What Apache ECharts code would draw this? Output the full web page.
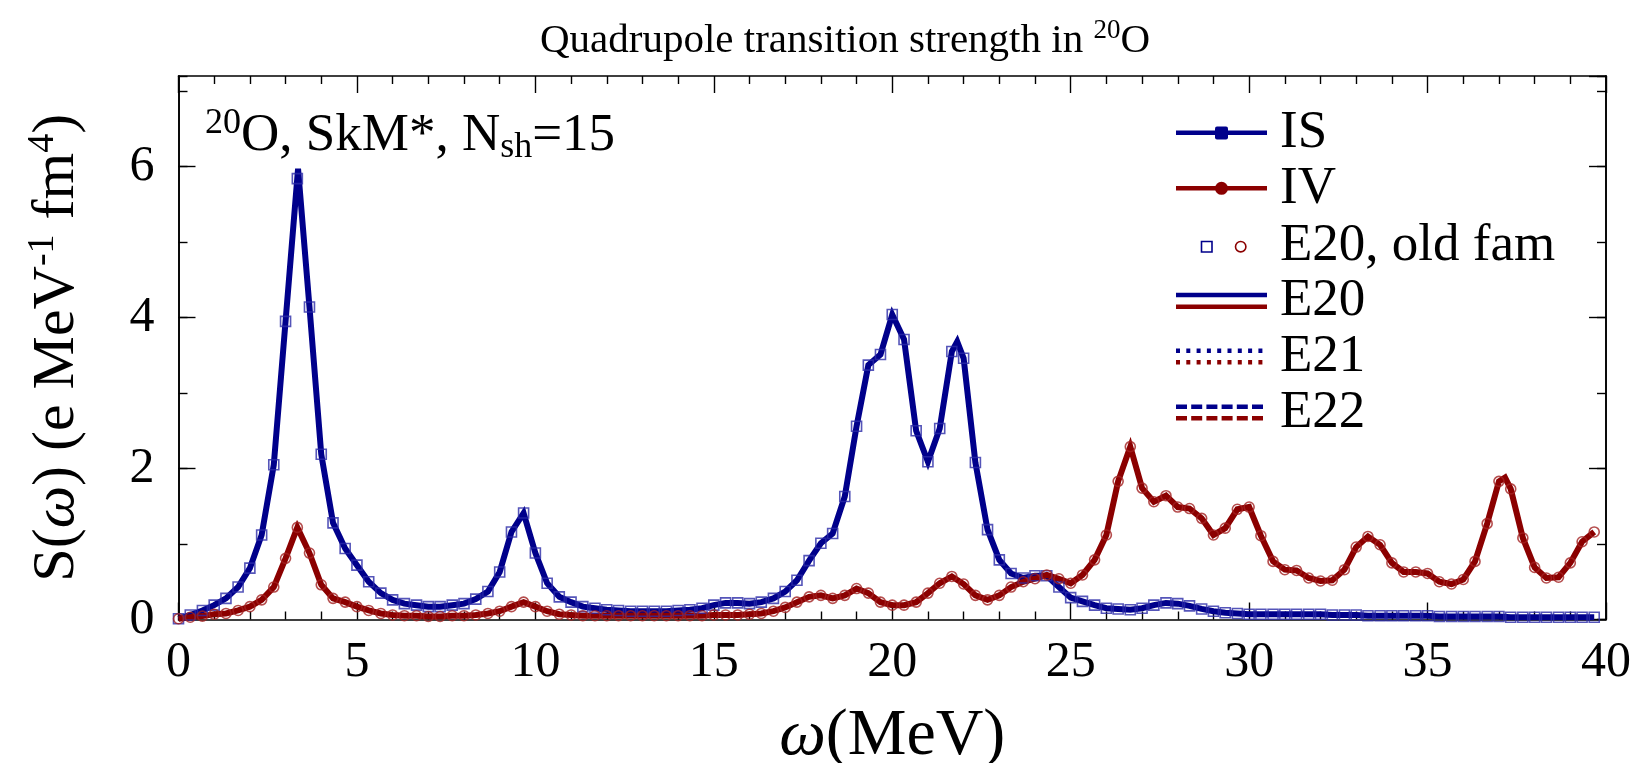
<!DOCTYPE html>
<html><head><meta charset="utf-8">
<script src="https://cdn.jsdelivr.net/npm/echarts@6/dist/echarts.min.js"></script>
<style>html,body{margin:0;padding:0;background:#fff}#c{width:1635px;height:763px}</style>
</head><body><div id="c"></div>
<script>
// ---- data ----
const energy = [0,0.33,0.67,1,1.33,1.67,2,2.33,2.67,3,3.33,3.67,4,4.33,4.67,5,5.33,5.67,6,6.33,6.67,7,7.33,7.67,8,8.33,8.67,9,9.33,9.67,10,10.33,10.67,11,11.33,11.67,12,12.33,12.67,13,13.33,13.67,14,14.33,14.67,15,15.33,15.67,16,16.33,16.67,17,17.33,17.67,18,18.33,18.67,19,19.33,19.67,20,20.33,20.67,21,21.33,21.67,22,22.33,22.67,23,23.33,23.67,24,24.33,24.67,25,25.33,25.67,26,26.33,26.67,27,27.33,27.67,28,28.33,28.67,29,29.33,29.67,30,30.33,30.67,31,31.33,31.67,32,32.33,32.67,33,33.33,33.67,34,34.33,34.67,35,35.33,35.67,36,36.33,36.67,37,37.33,37.67,38,38.33,38.67,39,39.33,39.67];
const isValues = [0.01,0.06,0.12,0.19,0.28,0.43,0.68,1.12,2.05,3.95,
 5.84,4.14,2.19,1.28,0.94,0.72,0.50,0.35,0.26,0.21,
 0.19,0.17,0.17,0.19,0.21,0.27,0.37,0.63,1.16,1.41,
 0.88,0.48,0.30,0.23,0.17,0.15,0.13,0.12,0.11,0.11,
 0.11,0.11,0.12,0.13,0.15,0.19,0.22,0.22,0.21,0.23,
 0.28,0.37,0.52,0.78,1.01,1.14,1.63,2.56,3.37,3.51,
 4.04,3.71,2.50,2.09,2.53,3.55,3.46,2.08,1.19,0.79,
 0.61,0.55,0.58,0.58,0.43,0.29,0.24,0.19,0.15,0.14,
 0.13,0.15,0.19,0.22,0.21,0.18,0.14,0.11,0.09,0.08,
 0.07,0.07,0.07,0.07,0.07,0.07,0.07,0.06,0.06,0.06,
 0.05,0.05,0.05,0.05,0.05,0.05,0.04,0.04,0.04,0.04,
 0.04,0.04,0.03,0.03,0.03,0.03,0.03,0.03,0.03,0.03];
const ivValues = [0.01,0.03,0.045,0.07,0.08,0.12,0.17,0.26,0.43,0.81,
 1.22,0.88,0.46,0.28,0.23,0.17,0.12,0.08,0.06,0.05,
 0.05,0.04,0.04,0.05,0.05,0.06,0.08,0.11,0.17,0.23,
 0.17,0.11,0.07,0.06,0.05,0.05,0.05,0.05,0.05,0.05,
 0.05,0.05,0.05,0.05,0.05,0.06,0.06,0.06,0.07,0.08,
 0.11,0.16,0.23,0.30,0.32,0.28,0.32,0.41,0.35,0.23,
 0.19,0.19,0.23,0.35,0.48,0.57,0.47,0.32,0.26,0.32,
 0.43,0.50,0.54,0.59,0.54,0.48,0.59,0.79,1.12,1.83,
 2.29,1.74,1.56,1.64,1.49,1.47,1.34,1.12,1.21,1.46,
 1.49,1.11,0.77,0.66,0.65,0.55,0.51,0.52,0.66,0.96,
 1.10,0.99,0.75,0.63,0.63,0.61,0.50,0.47,0.53,0.77,
 1.27,1.83,1.73,1.08,0.69,0.55,0.56,0.75,1.03,1.16];
// peak points of the finer E20 curves (line tips between/above the old markers)
const isLinePeaks = [[3.35, 5.97], [21.82, 3.68]];
const ivLinePeaks = [[37.17, 1.88]];
const legendLabels = ['IS', 'IV', 'E20, old fam', 'E20', 'E21', 'E22'];

const BLUE = '#00008b', RED = '#8b0000';
const FONT = 'Liberation Serif';

function markerPts(vals) { return energy.map((e, i) => [e, vals[i]]); }
function linePts(vals, peaks) {
  const pts = markerPts(vals);
  peaks.forEach(p => {
    const k = pts.findIndex(q => Math.abs(q[0] - p[0]) < 0.05);
    if (k >= 0) pts[k] = [p[0], p[1]]; else pts.push([p[0], p[1]]);
  });
  return pts.sort((a, b) => a[0] - b[0]);
}

const chart = echarts.init(document.getElementById('c'), null, {renderer: 'canvas'});
const tickLine = {color: '#000', width: 1.4};
const axLine = {show: true, onZero: false, lineStyle: {color: '#000', width: 1.6}};
function yAx(pos, interval, len, labels) {
  return {type: 'value', position: pos, min: 0, max: 7.2, interval: interval,
    axisLine: axLine, splitLine: {show: false},
    axisTick: {show: true, inside: true, length: len, lineStyle: tickLine},
    axisLabel: labels ? {show: true, fontFamily: FONT, fontSize: 50, color: '#000', margin: 24, showMaxLabel: false} : {show: false}
  };
}
const yMain = yAx('left', 2, 17, true);
yMain.name = 'S({it|ω}) (e MeV{sup|-1} fm{sup|4})';
yMain.nameLocation = 'middle';
yMain.nameGap = 88;
yMain.nameTextStyle = {fontFamily: FONT, fontSize: 60, color: '#000', lineHeight: 66,
  rich: {it: {fontFamily: FONT, fontSize: 60, fontStyle: 'italic', color: '#000', lineHeight: 66},
         sup: {fontFamily: FONT, fontSize: 38, color: '#000', verticalAlign: 'top', lineHeight: 66}}};

const lx1 = 1176, lx2 = 1267, tx = 1280;
const rows = [133, 189, 246, 301, 357, 413];
const graphics = [];
// legend lines and symbols
graphics.push({type: 'line', shape: {x1: lx1, y1: 132.7, x2: lx2, y2: 132.7}, style: {stroke: BLUE, lineWidth: 4.5}});
graphics.push({type: 'rect', shape: {x: 1215, y: 126.5, width: 13, height: 13, r: 2}, style: {fill: BLUE}});
graphics.push({type: 'line', shape: {x1: lx1, y1: 188.3, x2: lx2, y2: 188.3}, style: {stroke: RED, lineWidth: 4.5}});
graphics.push({type: 'circle', shape: {cx: 1221.5, cy: 188.3, r: 6.5}, style: {fill: RED}});
graphics.push({type: 'rect', shape: {x: 1201.5, y: 241.5, width: 10.5, height: 10.5}, style: {fill: 'none', stroke: BLUE, lineWidth: 1.6}});
graphics.push({type: 'circle', shape: {cx: 1240.7, cy: 246.7, r: 5.2}, style: {fill: 'none', stroke: RED, lineWidth: 1.6}});
[[295, 306.7, null], [350.7, 362.3, [4, 6.3]], [406.7, 418.3, [11, 4.2]]].forEach(r => {
  graphics.push({type: 'line', shape: {x1: lx1, y1: r[0], x2: lx2, y2: r[0]}, style: {stroke: BLUE, lineWidth: 4.5, lineDash: r[2]}});
  graphics.push({type: 'line', shape: {x1: lx1, y1: r[1], x2: lx2, y2: r[1]}, style: {stroke: RED, lineWidth: 4.5, lineDash: r[2]}});
});
legendLabels.forEach((t, i) => {
  graphics.push({type: 'text', x: tx, y: rows[i], style: {text: t, fontFamily: FONT, fontSize: 53, fill: '#000', verticalAlign: 'middle', align: 'left'}});
});
// annotation
graphics.push({type: 'text', x: 205, y: 136, style: {
  text: '{s|20}{a|O, SkM*, N}{b|sh}{a|=15}', verticalAlign: 'middle', align: 'left',
  rich: {a: {fontFamily: FONT, fontSize: 53, fill: '#000', lineHeight: 60},
         s: {fontFamily: FONT, fontSize: 36, fill: '#000', verticalAlign: 'top', lineHeight: 60},
         b: {fontFamily: FONT, fontSize: 36, fill: '#000', verticalAlign: 'bottom', lineHeight: 60}}}});

chart.setOption({
  animation: false,
  backgroundColor: '#fff',
  title: {text: '{a|Quadrupole transition strength in }{s|20}{a|O}', left: 535, top: 12,
    textStyle: {fontWeight: 'normal', rich: {a: {fontFamily: FONT, fontSize: 41, fontWeight: 'normal', color: '#000', lineHeight: 48},
                       s: {fontFamily: FONT, fontSize: 27, fontWeight: 'normal', color: '#000', verticalAlign: 'top', lineHeight: 48}}}},
  grid: {left: 178.5, right: 29, top: 76, bottom: 143.5, outerBoundsMode: 'none', containLabel: false},
  xAxis: [
    {type: 'value', position: 'bottom', min: 0, max: 40, interval: 5,
     axisLine: axLine, splitLine: {show: false},
     axisTick: {show: true, inside: true, length: 17, lineStyle: tickLine},
     minorTick: {show: true, splitNumber: 5, length: 8, lineStyle: tickLine},
     axisLabel: {fontFamily: FONT, fontSize: 50, color: '#000', margin: 18},
     name: '{it|ω}(MeV)', nameLocation: 'middle', nameGap: 84,
     nameTextStyle: {fontFamily: FONT, fontSize: 66, color: '#000',
       rich: {it: {fontFamily: FONT, fontSize: 66, fontStyle: 'italic', color: '#000'}}}},
    {type: 'value', position: 'top', min: 0, max: 40, interval: 5,
     axisLine: axLine, splitLine: {show: false},
     axisTick: {show: true, inside: true, length: 17, lineStyle: tickLine},
     minorTick: {show: true, splitNumber: 5, length: 8, lineStyle: tickLine},
     axisLabel: {show: false}}
  ],
  yAxis: [yMain, yAx('left', 1, 9, false), yAx('right', 2, 17, false), yAx('right', 1, 9, false)],
  series: [
    {name: 'IS', type: 'line', data: linePts(isValues, isLinePeaks), showSymbol: false, symbol: 'none',
     lineStyle: {color: BLUE, width: 6, join: 'miter', miterLimit: 4}, z: 2},
    {name: 'IV', type: 'line', data: linePts(ivValues, ivLinePeaks), showSymbol: false, symbol: 'none',
     lineStyle: {color: RED, width: 6, join: 'miter', miterLimit: 4}, z: 3},
    {name: 'IS E20 old fam', type: 'scatter', data: markerPts(isValues), symbol: 'rect', symbolSize: 10,
     itemStyle: {color: 'rgba(255,255,255,0)', borderColor: '#2a2aa8', borderWidth: 1.6}, z: 4},
    {name: 'IV E20 old fam', type: 'scatter', data: markerPts(ivValues), symbol: 'circle', symbolSize: 10,
     itemStyle: {color: 'rgba(255,255,255,0)', borderColor: '#a32020', borderWidth: 1.6}, z: 5}
  ],
  graphic: graphics
});
</script></body></html>
